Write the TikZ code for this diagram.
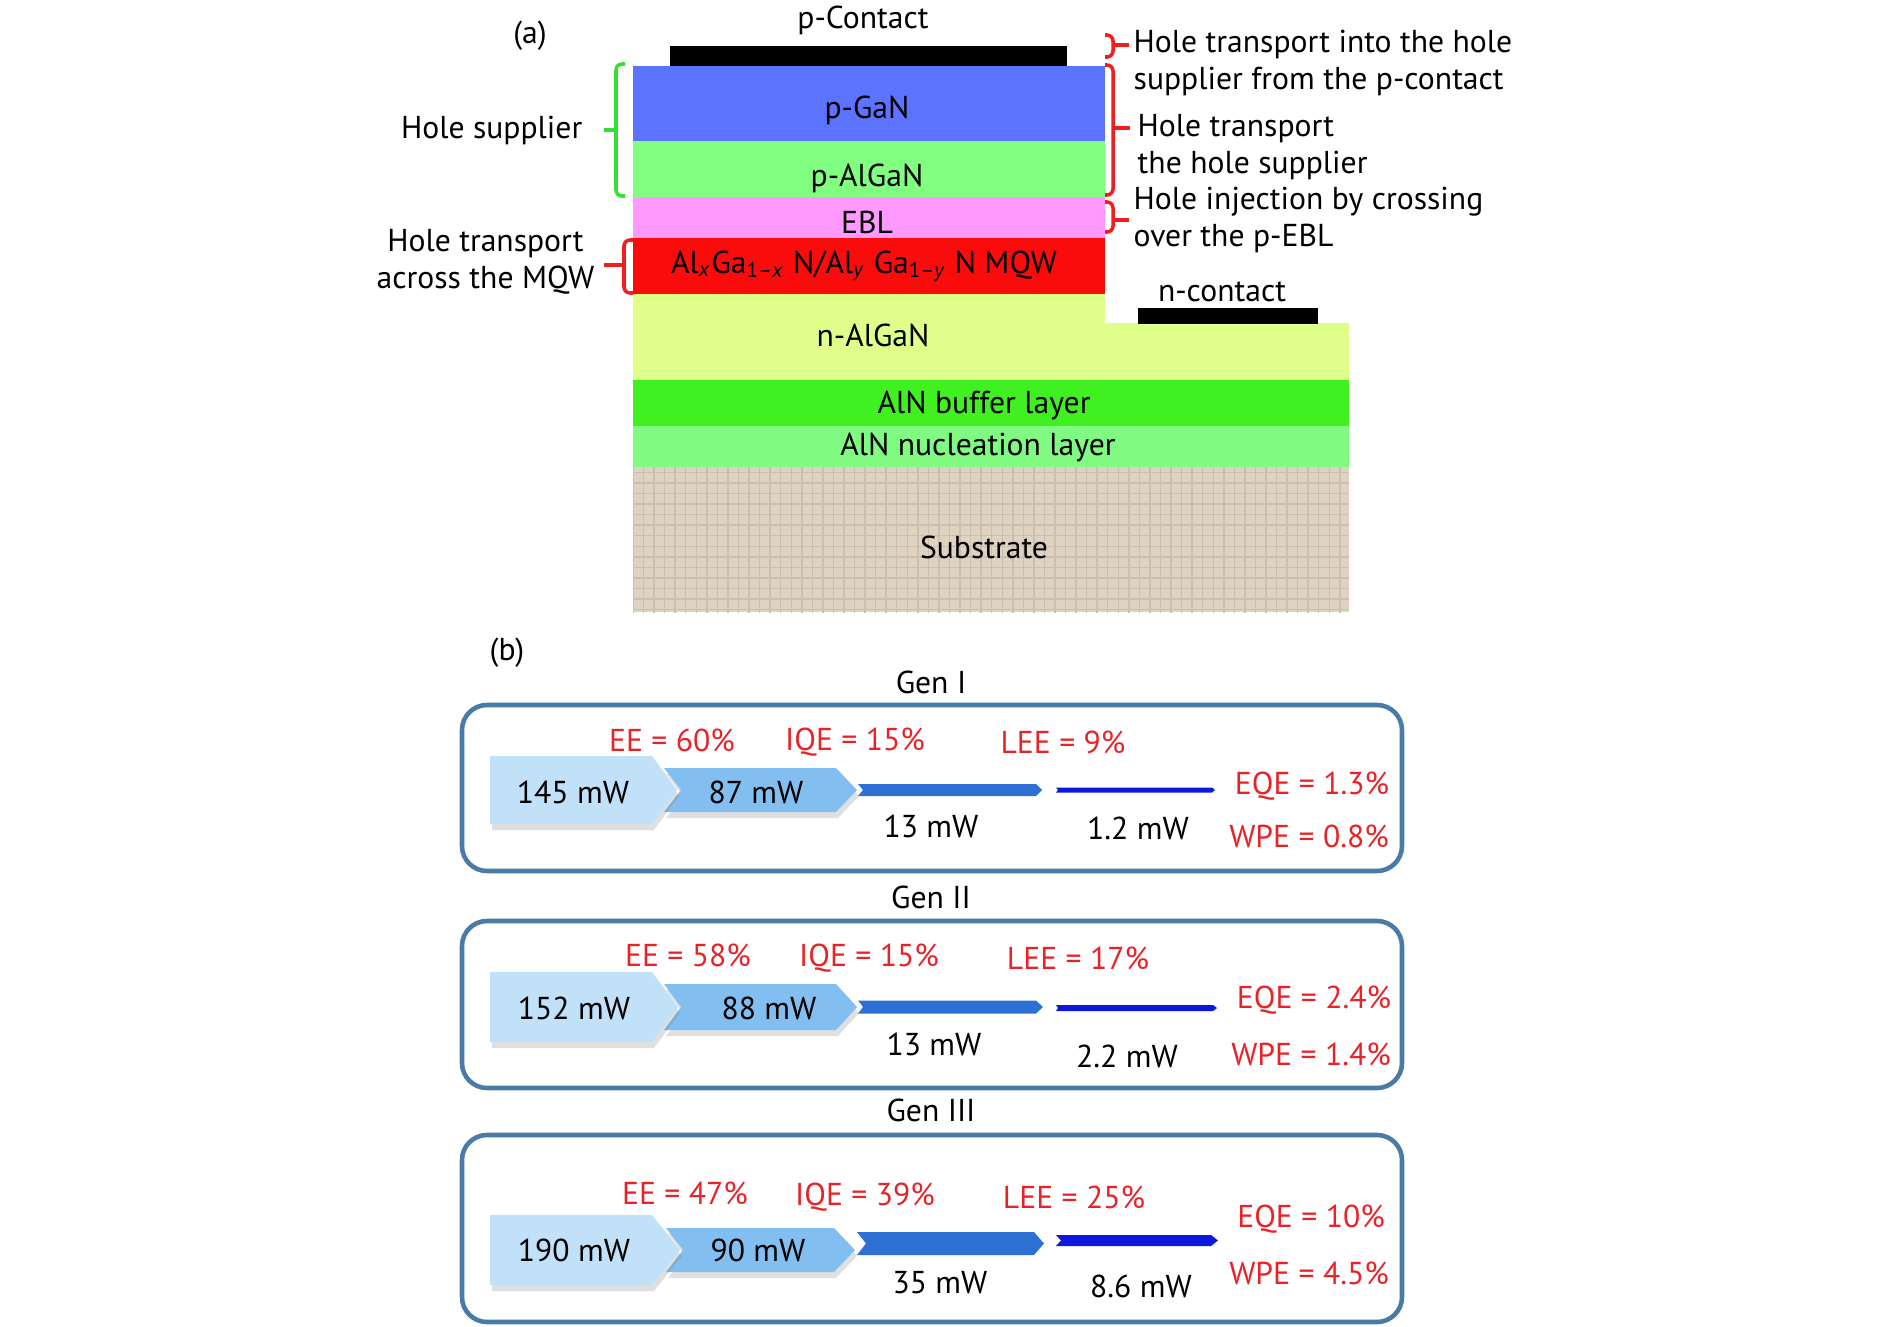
\documentclass[tikz,border=0pt]{standalone}
\usepackage{fontspec}
\setmainfont{PT Sans}
\usetikzlibrary{positioning,shadows,patterns}

\definecolor{pgan}{RGB}{92,115,255}
\definecolor{palgan}{RGB}{128,255,128}
\definecolor{ebl}{RGB}{255,153,255}
\definecolor{mqw}{RGB}{250,12,12}
\definecolor{nalgan}{RGB}{224,255,138}
\definecolor{buffer}{RGB}{64,240,32}
\definecolor{nucl}{RGB}{128,250,128}
\definecolor{subs}{RGB}{222,210,193}
\definecolor{subsline}{RGB}{204,191,174}
\definecolor{bracered}{RGB}{240,30,30}
\definecolor{bracegreen}{RGB}{50,225,50}
\definecolor{effred}{RGB}{232,35,40}
\definecolor{boxblue}{RGB}{74,122,166}
\definecolor{flowa}{RGB}{192,225,247}
\definecolor{flowb}{RGB}{130,191,240}
\definecolor{flowc}{RGB}{45,112,212}
\definecolor{flowd}{RGB}{12,24,222}

\tikzset{
  lbl/.style={font=\fontsize{9}{10.5}\selectfont, inner sep=0pt},
  note/.style={lbl, align=left, anchor=west},
  eff/.style={lbl, text=effred},
  rbrace/.style={draw=bracered, line width=1pt, rounded corners=0.6mm},
  gbrace/.style={draw=bracegreen, line width=1pt, rounded corners=0.6mm},
  genbox/.style={draw=boxblue, line width=1.3pt, rounded corners=2.5mm},
  flowshadow/.style={drop shadow={shadow xshift=0.2mm, shadow yshift=-0.6mm, opacity=0.25}}
}

\begin{document}
\begin{tikzpicture}[x=0.01cm,y=-0.01cm]
  \useasboundingbox (0,0) rectangle (1890,1327);

  % (a) layer stack
  \node[lbl] (a) at (530,36) {(a)};
  \fill[black] (670,46) rectangle (1067,66);
  \node[lbl] (pcontact) at (863,20) {p-Contact};
  \fill[pgan] (633,66) rectangle (1105,141);
  \fill[palgan] (633,141) rectangle (1105,197);
  \fill[ebl] (633,197) rectangle (1105,238);
  \fill[mqw] (633,238) rectangle (1105,294);
  \fill[nalgan] (633,294) -- (1105,294) -- (1105,323) -- (1349,323)
    -- (1349,380) -- (633,380) -- cycle;
  \fill[black] (1138,308) rectangle (1318,324);
  \node[lbl] (ncontact) at (1222,292) {n-contact};
  \fill[buffer] (633,380) rectangle (1349,426);
  \fill[nucl] (633,426) rectangle (1349,467);
  \fill[subs] (633,467) rectangle (1349,612);
  \fill[pattern=grid, pattern color=subsline] (633,467) rectangle (1349,612);

  \node[lbl] (pganlbl) at (867,110) {p-GaN};
  \node[lbl] (palganlbl) at (867,178) {p-AlGaN};
  \node[lbl] (ebllbl) at (867,222) {EBL};
  \node[lbl] (mqwlbl) at (864,266)
    {Al\textsubscript{\textit{x}}Ga\textsubscript{1–\textit{x}} N/Al\textsubscript{\textit{y}} Ga\textsubscript{1–\textit{y}} N MQW};
  \node[lbl] (nalganlbl) at (873,335) {n-AlGaN};
  \node[lbl] (bufferlbl) at (984,405) {AlN buffer layer};
  \node[lbl] (nucllbl) at (978,447) {AlN nucleation layer};
  \node[lbl] (subslbl) at (984,547) {Substrate};

  % left braces
  \node[lbl, anchor=east] (holesup) at (583,130) {Hole supplier};
  \draw[gbrace] (625,64) -- (616,64) -- (616,196) -- (625,196);
  \draw[gbrace, rounded corners=0pt] (616,130) -- (604,130);
  \node[lbl, anchor=east, align=center] (acrossmqw) at (595,262)
    {Hole transport\\across the MQW};
  \draw[rbrace] (633,240) -- (624,240) -- (624,293) -- (633,293);
  \draw[rbrace, rounded corners=0pt] (624,265) -- (604,265);

  % right braces
  \draw[rbrace] (1105,35) -- (1113,35) -- (1113,57) -- (1105,57);
  \draw[rbrace, rounded corners=0pt] (1113,45) -- (1129,45);
  \node[note] (intosup) at (1133,63)
    {Hole transport into the hole\\supplier from the p-contact};
  \draw[rbrace] (1105,65) -- (1113,65) -- (1113,195) -- (1105,195);
  \draw[rbrace, rounded corners=0pt] (1113,128) -- (1130,128);
  \node[note] (thesup) at (1137,147)
    {Hole transport\\the hole supplier};
  \draw[rbrace] (1105,202) -- (1113,202) -- (1113,232) -- (1105,232);
  \draw[rbrace, rounded corners=0pt] (1113,220) -- (1129,220);
  \node[note] (injection) at (1133,220)
    {Hole injection by crossing\\over the p-EBL};

  % (b) generations
  \node[lbl] (b) at (507,653) {(b)};

  % Gen I
  \node[lbl] (gen1) at (931,682) {Gen I};
  \draw[genbox] (462,705) rectangle (1402,871);
  \fill[flowb, flowshadow] (664,768) -- (836,768) -- (857,790) -- (836,812)
    -- (664,812) -- (681,790) -- cycle;
  \fill[flowa, flowshadow] (490,756) -- (652,756) -- (677,790) -- (652,824)
    -- (490,824) -- cycle;
  \fill[flowc] (858,784) -- (1036,784) -- (1042,790) -- (1036,796)
    -- (858,796) -- (863,790) -- cycle;
  \fill[flowd] (1056,787.5) -- (1212,787.5) -- (1215,790) -- (1212,792.5)
    -- (1056,792.5) -- (1058,790) -- cycle;
  \node[eff] (ee1) at (672,740) {EE = 60\%};
  \node[eff] (iqe1) at (855,742) {IQE = 15\%};
  \node[eff] (lee1) at (1063,742) {LEE = 9\%};
  \node[eff] (eqe1) at (1312,786) {EQE = 1.3\%};
  \node[eff] (wpe1) at (1309,836) {WPE = 0.8\%};
  \node[lbl] (p1a) at (573,792) {145 mW};
  \node[lbl] (p1b) at (756,792) {87 mW};
  \node[lbl] (p1c) at (931,826) {13 mW};
  \node[lbl] (p1d) at (1138,828) {1.2 mW};

  % Gen II
  \node[lbl] (gen2) at (931,897) {Gen II};
  \draw[genbox] (462,921) rectangle (1402,1088);
  \fill[flowb, flowshadow] (664,984) -- (836,984) -- (857,1007) -- (836,1030)
    -- (664,1030) -- (681,1007) -- cycle;
  \fill[flowa, flowshadow] (490,972) -- (652,972) -- (678,1007) -- (652,1042)
    -- (490,1042) -- cycle;
  \fill[flowc] (858,1000.5) -- (1036,1000.5) -- (1043,1007) -- (1036,1013.5)
    -- (858,1013.5) -- (863,1007) -- cycle;
  \fill[flowd] (1056,1005) -- (1213,1005) -- (1217,1008) -- (1213,1011)
    -- (1056,1011) -- (1058,1008) -- cycle;
  \node[eff] (ee2) at (688,955) {EE = 58\%};
  \node[eff] (iqe2) at (869,958) {IQE = 15\%};
  \node[eff] (lee2) at (1078,958) {LEE = 17\%};
  \node[eff] (eqe2) at (1314,1000) {EQE = 2.4\%};
  \node[eff] (wpe2) at (1311,1054) {WPE = 1.4\%};
  \node[lbl] (p2a) at (574,1008) {152 mW};
  \node[lbl] (p2b) at (769,1008) {88 mW};
  \node[lbl] (p2c) at (934,1044) {13 mW};
  \node[lbl] (p2d) at (1127,1056) {2.2 mW};

  % Gen III
  \node[lbl] (gen3) at (931,1110) {Gen III};
  \draw[genbox] (462,1135) rectangle (1402,1322);
  \fill[flowb, flowshadow] (666,1228) -- (834,1228) -- (855,1250) -- (834,1272)
    -- (666,1272) -- (683,1250) -- cycle;
  \fill[flowa, flowshadow] (490,1215) -- (652,1215) -- (680,1250) -- (652,1285)
    -- (490,1285) -- cycle;
  \fill[flowc] (857,1232) -- (1034,1232) -- (1044,1243.5) -- (1034,1255)
    -- (857,1255) -- (866,1243.5) -- cycle;
  \fill[flowd] (1056,1235) -- (1211,1235) -- (1218,1240.5) -- (1211,1246)
    -- (1056,1246) -- (1061,1240.5) -- cycle;
  \node[eff] (ee3) at (685,1193) {EE = 47\%};
  \node[eff] (iqe3) at (865,1197) {IQE = 39\%};
  \node[eff] (lee3) at (1074,1197) {LEE = 25\%};
  \node[eff] (eqe3) at (1311,1219) {EQE = 10\%};
  \node[eff] (wpe3) at (1309,1273) {WPE = 4.5\%};
  \node[lbl] (p3a) at (574,1250) {190 mW};
  \node[lbl] (p3b) at (758,1250) {90 mW};
  \node[lbl] (p3c) at (940,1283) {35 mW};
  \node[lbl] (p3d) at (1141,1286) {8.6 mW};
\end{tikzpicture}
\end{document}
